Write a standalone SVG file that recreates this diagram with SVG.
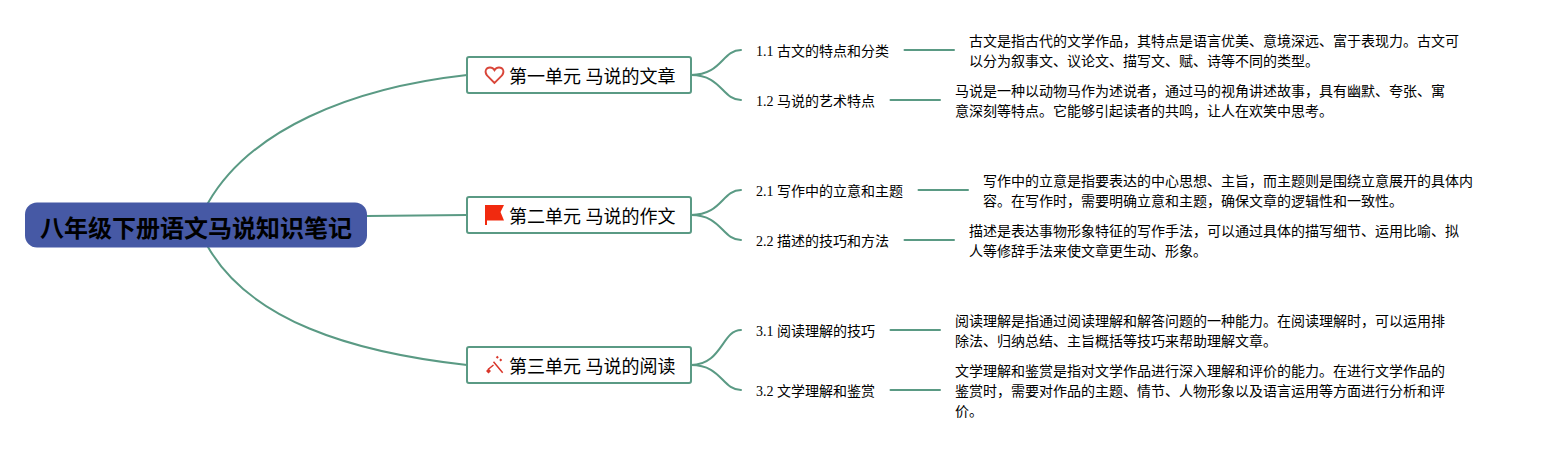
<svg xmlns="http://www.w3.org/2000/svg" width="1543" height="450" viewBox="0 0 1543 450">
<style>
text{font-family:"Liberation Serif","Noto Sans CJK SC",serif;fill:#000}
.c{fill:none;stroke:#5a9a84;stroke-width:2;stroke-linecap:round}
.t{fill:#fff;stroke:#5a9a84;stroke-width:2}
.h{font-size:18px}
.s{font-size:14px}
.d{font-size:14px}
</style>
<rect width="1543" height="450" fill="#fff"/>
<g id="connectors">
<path class="c" d="M208 203C250 130 350 88 467 75"/>
<path class="c" d="M367 216L467 215"/>
<path class="c" d="M208 247C250 320 350 352 467 365"/>
<path class="c" d="M691 75C722 75 722 50 741 50"/>
<path class="c" d="M691 75C722 75 722 100 741 100"/>
<path class="c" d="M691 215C722 215 722 190 741 190"/>
<path class="c" d="M691 215C722 215 722 240 741 240"/>
<path class="c" d="M691 365C722 365 722 330 741 330"/>
<path class="c" d="M691 365C722 365 722 390 741 390"/>
<path class="c" d="M904.500 50H954"/>
<path class="c" d="M890.500 100H940"/>
<path class="c" d="M918.500 190H968"/>
<path class="c" d="M904.500 240H954"/>
<path class="c" d="M890.500 330H940"/>
<path class="c" d="M890.500 390H940"/>
</g>
<g id="root">
<rect x="25" y="202.500" width="342" height="45" rx="12" fill="#4659a5"/>
<text x="40" y="236.500" font-size="24" font-weight="700">八年级下册语文马说知识笔记</text>
</g>
<g id="topic1">
<rect class="t" x="467" y="57" width="224" height="36" rx="2"/>
<path d="M494.500 83L487 75.500C484 71.500 486 67.500 490 67.500C492 67.500 493.500 68.500 494.500 70.200C495.500 68.500 497 67.500 499 67.500C503 67.500 505 71.500 502 75.500Z" fill="none" stroke="#d9463a" stroke-width="1.800"/>
<text class="h" x="509" y="82.500">第一单元 马说的文章</text>
</g>
<g id="topic2">
<rect class="t" x="467" y="197" width="224" height="36" rx="2"/>
<path d="M485 205H504L500.500 212L504 220.500H487V225H485Z" fill="#f12a0f"/>
<text class="h" x="509" y="222.500">第二单元 马说的作文</text>
</g>
<g id="topic3">
<rect class="t" x="467" y="347" width="224" height="36" rx="2"/>
<path d="M493.500 361.700L502.700 372.700M488 369.500L493.500 365" stroke="#d9362a" stroke-width="1.500" fill="none"/>
<path d="M486 371L488.500 368.500L491 371L488.500 373.500ZM497.300 355.800L498.800 357.300L497.300 358.800L495.800 357.300ZM500.700 358.500L502.200 360L500.700 361.500L499.200 360Z" fill="#d9362a"/>
<text class="h" x="509" y="372.500">第三单元 马说的阅读</text>
</g>
<g id="s11"><text class="s" x="756" y="55.500">1.1 古文的特点和分类</text></g>
<g id="d11"><text class="d" x="969" y="46">古文是指古代的文学作品，其特点是语言优美、意境深远、富于表现力。古文可</text><text class="d" x="969" y="66">以分为叙事文、议论文、描写文、赋、诗等不同的类型。</text></g>
<g id="s12"><text class="s" x="756" y="105.500">1.2 马说的艺术特点</text></g>
<g id="d12"><text class="d" x="955" y="96">马说是一种以动物马作为述说者，通过马的视角讲述故事，具有幽默、夸张、寓</text><text class="d" x="955" y="116">意深刻等特点。它能够引起读者的共鸣，让人在欢笑中思考。</text></g>
<g id="s21"><text class="s" x="756" y="195.500">2.1 写作中的立意和主题</text></g>
<g id="d21"><text class="d" x="983" y="186">写作中的立意是指要表达的中心思想、主旨，而主题则是围绕立意展开的具体内</text><text class="d" x="983" y="206">容。在写作时，需要明确立意和主题，确保文章的逻辑性和一致性。</text></g>
<g id="s22"><text class="s" x="756" y="245.500">2.2 描述的技巧和方法</text></g>
<g id="d22"><text class="d" x="969" y="236">描述是表达事物形象特征的写作手法，可以通过具体的描写细节、运用比喻、拟</text><text class="d" x="969" y="256">人等修辞手法来使文章更生动、形象。</text></g>
<g id="s31"><text class="s" x="756" y="335.500">3.1 阅读理解的技巧</text></g>
<g id="d31"><text class="d" x="955" y="326">阅读理解是指通过阅读理解和解答问题的一种能力。在阅读理解时，可以运用排</text><text class="d" x="955" y="346">除法、归纳总结、主旨概括等技巧来帮助理解文章。</text></g>
<g id="s32"><text class="s" x="756" y="395.500">3.2 文学理解和鉴赏</text></g>
<g id="d32"><text class="d" x="955" y="376">文学理解和鉴赏是指对文学作品进行深入理解和评价的能力。在进行文学作品的</text><text class="d" x="955" y="396">鉴赏时，需要对作品的主题、情节、人物形象以及语言运用等方面进行分析和评</text><text class="d" x="955" y="416">价。</text></g>
</svg>
